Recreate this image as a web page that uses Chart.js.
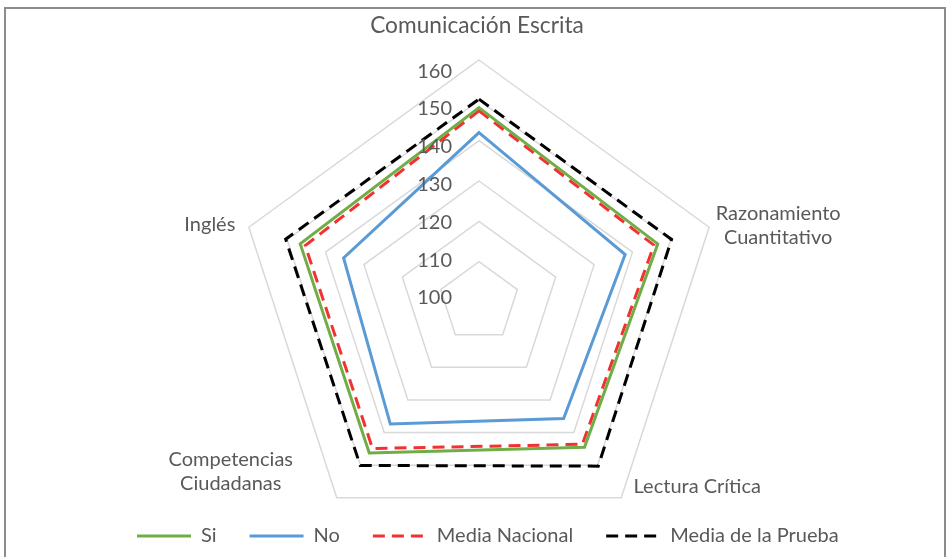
<!DOCTYPE html>
<html>
<head>
<meta charset="utf-8">
<script src="https://cdn.jsdelivr.net/npm/chart.js@4/dist/chart.umd.min.js"></script>
<style>
    html, body { margin: 0; padding: 0; background: #ffffff; }
    #wrap { position: absolute; left: 0; top: 0; width: 947px; height: 557px; }
    #frame {
        position: absolute; left: 4px; top: 7px; width: 942px; height: 552px;
        border: 2px solid #8c8c8c; box-sizing: border-box; pointer-events: none;
    }
</style>
</head>
<body>
<div id="wrap"><canvas id="radar"></canvas></div>
<div id="frame"></div>
<script>
// categorias (una linea por elemento)
const categories = [
    "Comunicación Escrita",
    ["Razonamiento", "Cuantitativo"],
    "Lectura Crítica",
    ["Competencias", "Ciudadanas"],
    "Inglés"
];
const tickLabels = [100, 110, 120, 130, 140, 150, 160];

const si = [148.2, 146.6, 144.5, 146.3, 146.6];
const no = [142.0, 138.1, 135.7, 137.4, 135.3];
const mediaNacional = [147.4, 145.6, 143.6, 144.9, 145.3];
const mediaPrueba = [150.3, 150.2, 150.3, 150.1, 150.4];

// posicion del radar y de los textos
const RADAR = { x: 479, y: 302, r: 242 };
const labelLayout = [
    { dx: -2, dy: -34, size: 22.7, lh: 24 },
    { dx: 69, dy: -2, size: 20, lh: 24 },
    { dx: 76, dy: -11, size: 20, lh: 24 },
    { dx: -106, dy: -26, size: 20, lh: 23.5 },
    { dx: -39, dy: -3, size: 20, lh: 24 }
];
const textColor = "#595959";
const dash = [12, 7];

const excelLabels = {
    id: "excelLabels",
    afterDraw(chart) {
        const scale = chart.scales.r;
        const ctx = chart.ctx;
        ctx.save();
        ctx.fillStyle = textColor;
        ctx.textBaseline = "middle";

        ctx.font = "20px Lato";
        ctx.textAlign = "right";
        tickLabels.forEach(v => {
            const d = scale.getDistanceFromCenterForValue(v);
            ctx.fillText(String(v), scale.xCenter - 27, scale.yCenter - 4 - d * 0.937);
        });

        ctx.textAlign = "center";
        categories.forEach((label, i) => {
            const lines = Array.isArray(label) ? label : [label];
            const p = scale.getPointPosition(i, scale.drawingArea);
            const o = labelLayout[i];
            ctx.font = o.size + "px Lato";
            lines.forEach((line, k) => {
                const y = p.y + o.dy + (k - (lines.length - 1) / 2) * o.lh;
                ctx.fillText(line, p.x + o.dx, y);
            });
        });
        ctx.restore();
    }
};

function serie(label, data, color, dashes) {
    return {
        label: label,
        data: data,
        borderColor: color,
        backgroundColor: "transparent",
        borderWidth: 3,
        borderDash: dashes,
        pointRadius: 0,
        pointHoverRadius: 0,
        fill: false,
        tension: 0,
        clip: false
    };
}

document.fonts.load("20px Lato").then(function () {
    const ctx = document.getElementById("radar").getContext("2d");
    new Chart(ctx, {
        type: "radar",
        data: {
            labels: categories,
            datasets: [
                serie("Si", si, "#70ad47", []),
                serie("No", no, "#5b9bd5", []),
                serie("Media Nacional", mediaNacional, "#f23232", dash),
                serie("Media de la Prueba", mediaPrueba, "#000000", dash)
            ]
        },
        options: {
            responsive: true,
            maintainAspectRatio: false,
            animation: false,
            events: [],
            layout: { padding: { left: 104, bottom: 1 } },
            plugins: {
                tooltip: { enabled: false },
                legend: {
                    position: "bottom",
                    align: "start",
                    labels: {
                        font: { family: "Lato", size: 20 },
                        color: textColor,
                        usePointStyle: true,
                        pointStyleWidth: 54,
                        boxHeight: 20,
                        padding: 33,
                        generateLabels(chart) {
                            const items = Chart.defaults.plugins.legend.labels.generateLabels(chart);
                            items.forEach(item => {
                                const ds = chart.data.datasets[item.datasetIndex];
                                item.pointStyle = "line";
                                item.strokeStyle = ds.borderColor;
                                item.lineWidth = ds.borderWidth;
                                item.lineDash = ds.borderDash;
                            });
                            return items;
                        }
                    }
                }
            },
            scales: {
                r: {
                    min: 100,
                    max: 160,
                    ticks: { stepSize: 10, display: false },
                    grid: { color: "#d9d9d9", lineWidth: 1.5 },
                    angleLines: { display: false },
                    pointLabels: { display: false },
                    afterFit(scale) {
                        scale.xCenter = RADAR.x;
                        scale.yCenter = RADAR.y;
                        scale.drawingArea = RADAR.r;
                    }
                }
            }
        },
        plugins: [excelLabels]
    });
});
</script>
</body>
</html>
